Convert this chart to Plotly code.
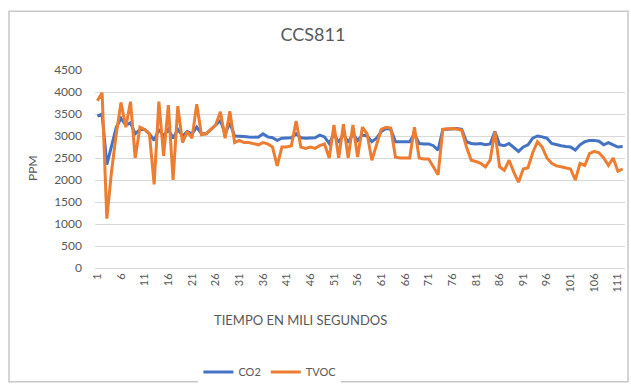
import plotly.graph_objects as go

x_index = list(range(1, 113))
tick_values = list(range(1, 112, 5))
tick_labels = [str(v) for v in tick_values]

co2 = [3450, 3500, 2350, 2800, 3200, 3400, 3250, 3300, 3050, 3150,
       3150, 3050, 2900, 3150, 3000, 3150, 2950, 3150, 3000, 3100,
       3050, 3200, 3050, 3050, 3150, 3250, 3350, 3050, 3300, 3000,
       3000, 2990, 2980, 2980, 2970, 3050, 2980, 2960, 2900, 2950,
       2950, 2960, 3050, 2960, 2950, 2960, 2960, 3020, 2980, 2830,
       3050, 2850, 3050, 2850, 3050, 2900, 3020, 3000, 2870, 2950,
       3100, 3170, 3150, 2870, 2870, 2870, 2870, 3050, 2830, 2820,
       2820, 2780, 2680, 3150, 3160, 3170, 3170, 3150, 2870, 2830,
       2820, 2830, 2800, 2820, 3100, 2800, 2780, 2830, 2750, 2650,
       2750, 2800, 2950, 3000, 2980, 2950, 2830, 2800, 2780, 2760,
       2750, 2680, 2800, 2870, 2900, 2900, 2880, 2800, 2850, 2800,
       2750, 2760]

tvoc = [3800, 3980, 1120, 2200, 3050, 3760, 3200, 3780, 2500, 3200,
        3150, 3050, 1900, 3780, 2550, 3700, 2000, 3680, 2850, 3100,
        2950, 3720, 3030, 3050, 3150, 3250, 3550, 2950, 3560, 2850,
        2900, 2850, 2850, 2820, 2800, 2850, 2820, 2750, 2320, 2750,
        2750, 2780, 3340, 2750, 2720, 2750, 2720, 2780, 2820, 2500,
        3250, 2500, 3270, 2500, 3250, 2520, 3200, 3050, 2450, 2800,
        3150, 3200, 3180, 2520, 2500, 2500, 2500, 3200, 2500, 2480,
        2480, 2300, 2120, 3150, 3160, 3170, 3160, 3130, 2750, 2450,
        2420, 2380, 2300, 2450, 3100, 2300, 2220, 2450, 2180, 1950,
        2250, 2280, 2620, 2870, 2750, 2500, 2380, 2320, 2300, 2270,
        2250, 2000, 2380, 2330, 2600, 2650, 2620, 2500, 2330, 2500,
        2200, 2250]

y_ticks = list(range(0, 4501, 500))

FONT = "Lato, 'Open Sans', sans-serif"
GREY = "#595959"

fig = go.Figure()
fig.add_trace(go.Scatter(x=x_index, y=co2, mode="lines", name="CO2",
                         line=dict(color="#4472C4", width=3)))
fig.add_trace(go.Scatter(x=x_index, y=tvoc, mode="lines", name="TVOC",
                         line=dict(color="#ED7D31", width=3)))

fig.update_layout(
    width=631, height=392,
    margin=dict(l=95, r=6, t=70, b=120),
    paper_bgcolor="white", plot_bgcolor="white",
    font=dict(family=FONT, color=GREY, size=11),
    title=dict(text="CCS811", x=0.496, xanchor="center", y=0.911, yanchor="middle",
               font=dict(size=18, color=GREY, family=FONT)),
    showlegend=True,
    legend=dict(orientation="h", x=0.33, xanchor="center", y=-0.525, yanchor="middle",
                font=dict(size=11, color=GREY), itemwidth=30, tracegroupgap=0),
    xaxis=dict(range=[0.5, 112.5], tickmode="array", tickvals=tick_values,
               ticktext=tick_labels, tickangle=-90, showgrid=False,
               showline=True, linecolor="#d9d9d9", linewidth=1, ticks="",
               tickfont=dict(size=11, color=GREY), zeroline=False),
    yaxis=dict(range=[0, 4500], tickmode="array", tickvals=y_ticks,
               showgrid=True, gridcolor="#d9d9d9", gridwidth=1, zeroline=False,
               showline=False, ticks="", ticklabelstandoff=12,
               tickfont=dict(size=12, color=GREY)),
    annotations=[
        dict(text="TIEMPO EN MILI SEGUNDOS", xref="paper", yref="paper",
             x=0.387, y=-0.262, showarrow=False, xanchor="center", yanchor="middle",
             font=dict(size=13, color=GREY)),
        dict(text="PPM", xref="paper", yref="paper", x=-0.119, y=0.505,
             showarrow=False, textangle=-90, xanchor="center", yanchor="middle",
             font=dict(size=12, color=GREY)),
    ],
    shapes=[
        dict(type="rect", xref="paper", yref="paper",
             x0=-0.1623, x1=1.0057, y0=-0.574, y1=1.297,
             line=dict(color="#c8c8c8", width=1.5), layer="below"),
    ],
)

fig.write_html("out.html")
